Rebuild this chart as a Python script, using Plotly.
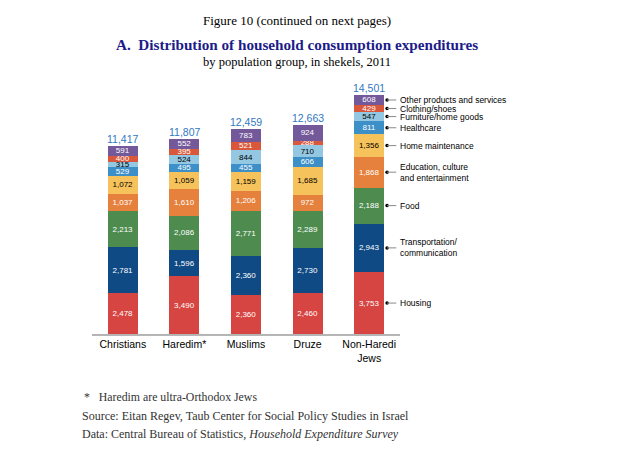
import plotly.graph_objects as go

groups = ["Christians", "Haredim*", "Muslims", "Druze", "Non-Haredi<br>Jews"]
totals = [11417, 11807, 12459, 12663, 14501]

series_names = [
    "Housing",
    "Transportation/<br>communication",
    "Food",
    "Education, culture<br>and entertainment",
    "Home maintenance",
    "Healthcare",
    "Furniture/home goods",
    "Clothing/shoes",
    "Other products and services",
]
housing = [2478, 3490, 2360, 2460, 3753]
transport = [2781, 1596, 2360, 2730, 2943]
food = [2213, 2086, 2771, 2289, 2188]
education = [1037, 1610, 1206, 972, 1868]
home_maint = [1072, 1059, 1159, 1685, 1356]
healthcare = [529, 495, 455, 606, 811]
furniture = [315, 524, 844, 710, 547]
clothing = [400, 395, 521, 288, 429]
other = [591, 552, 783, 924, 608]

series_values = [housing, transport, food, education, home_maint,
                 healthcare, furniture, clothing, other]
colors = ["#d64541", "#0f4a84", "#4e8b4f", "#e5813c", "#f6c25c",
          "#3d8fc8", "#94c7e1", "#d9573a", "#73589a"]
text_colors = ["white", "white", "white", "white", "black",
               "white", "black", "white", "white"]

# page body has an 8px margin; compensate
OFF = 8
W, H = 622 - OFF, 464 - OFF
L, R, T, B = 92 - OFF, 400 - OFF, 80 - OFF, 334 - OFF

def px(x):
    return (x - OFF - L) / (R - L)

def py(y):
    return (B - (y - OFF)) / (B - T)

ymax = (B - T) * 14501 / (334 - 95)

xs = list(range(len(groups)))
fig = go.Figure()
for name, vals, col, tcol in zip(series_names, series_values, colors, text_colors):
    fig.add_trace(go.Bar(
        x=xs, y=vals, name=name, marker=dict(color=col, line=dict(width=0)),
        text=[f"{v:,}" for v in vals], textposition="inside",
        insidetextanchor="middle", textangle=0,
        textfont=dict(family="Liberation Sans", size=8, color=tcol),
        hoverinfo="skip", showlegend=False,
    ))

# totals
for i, t in enumerate(totals):
    fig.add_annotation(x=i, y=t, text=f"{t:,}", showarrow=False,
                       yanchor="bottom", yshift=-1,
                       font=dict(family="Liberation Sans", size=10.5, color="#2f78c2"))

# right-side labels for last bar
last = len(groups) - 1
cum = 0
dot_x, line_x1, text_x = last + 0.29, last + 0.44, last + 0.46
dots_y = []
for name, vals in zip(series_names, series_values):
    c = cum + vals[last] / 2
    cum += vals[last]
    dots_y.append(c)
    fig.add_shape(type="line", xref="x", yref="y", x0=dot_x, x1=line_x1, y0=c, y1=c,
                  line=dict(color="#8a8a8a", width=1))
    fig.add_annotation(x=text_x, y=c, text=name, showarrow=False, xanchor="left",
                       align="left", yanchor="middle",
                       font=dict(family="Liberation Sans", size=8.5, color="black"))
fig.add_trace(go.Scatter(x=[dot_x] * len(dots_y), y=dots_y, mode="markers",
                         marker=dict(color="black", size=3.5), hoverinfo="skip",
                         showlegend=False, cliponaxis=False))

serif = "Liberation Serif"
def note(x, y, text, size, color="black", xanchor="center"):
    fig.add_annotation(xref="paper", yref="paper", x=px(x), y=py(y), text=text,
                       showarrow=False, xanchor=xanchor, yanchor="middle",
                       font=dict(family=serif, size=size, color=color))

note(297, 21, "Figure 10 (continued on next pages)", 13)
note(297, 44, "<b>A.  Distribution of household consumption expenditures</b>", 15.2, "#1c1c8a")
note(297, 62, "by population group, in shekels, 2011", 12.5)
note(82, 397, "*&nbsp;&nbsp;&nbsp;Haredim are ultra-Orthodox Jews", 11.8, "#333333", "left")
note(80, 416, "Source: Eitan Regev, Taub Center for Social Policy Studies in Israel", 12, "#333333", "left")
note(80, 434, "Data: Central Bureau of Statistics, <i>Household Expenditure Survey</i>", 12, "#333333", "left")

fig.update_layout(
    barmode="stack", bargap=0.51,
    width=W, height=H,
    margin=dict(l=L, r=W - R, t=T, b=H - B),
    paper_bgcolor="white", plot_bgcolor="white",
    uniformtext=dict(minsize=8, mode="show"),
    xaxis=dict(tickvals=xs, ticktext=groups, range=[-0.5, len(groups) - 0.5],
               showgrid=False, zeroline=False, showline=True, linecolor="#b5b5b5",
               linewidth=1.5, ticks="", tickfont=dict(family="Liberation Sans", size=10.5, color="black")),
    yaxis=dict(range=[0, ymax], visible=False, showgrid=False, zeroline=False),
)

fig.write_html("out.html")
